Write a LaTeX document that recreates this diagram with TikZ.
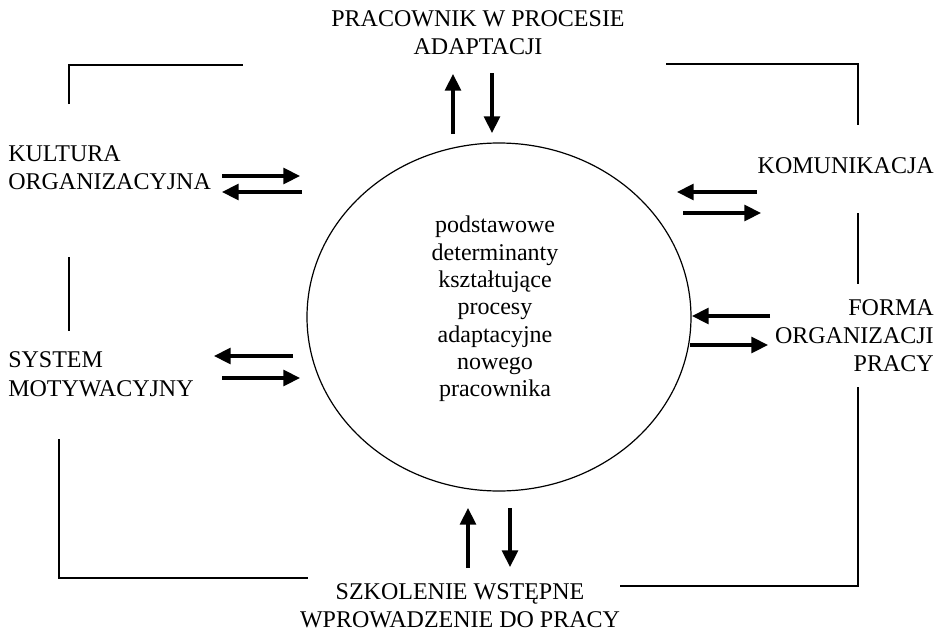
\documentclass[tikz,border=0pt]{standalone}
\usepackage{fontspec}
\setmainfont{Liberation Serif}
\usetikzlibrary{arrows.meta}

\tikzset{
  lbl/.style={inner sep=0pt,font=\fontsize{18}{21}\selectfont},
  arr/.style={line width=2.3pt,-{Triangle[length=12.5pt,width=12pt]}},
  frame/.style={line width=0.9pt},
}

\begin{document}
\begin{tikzpicture}[x=0.75pt,y=-0.75pt]
\useasboundingbox (0,0) rectangle (940,632);
% central ellipse
\draw[line width=0.9pt] (499,317) ellipse [x radius=192,y radius=174];
\node[lbl,align=center,anchor=north,font=\fontsize{18}{20.5}\selectfont] (core) at (495,216)
  {podstawowe\\determinanty\\kształtujące\\procesy\\adaptacyjne\\nowego\\pracownika};

% surrounding labels
\node[lbl,align=center,anchor=north] (worker) at (478,10) {PRACOWNIK W PROCESIE\\ADAPTACJI};
\node[lbl,align=left,anchor=north west] (culture) at (8,145) {KULTURA\\ORGANIZACYJNA};
\node[lbl,align=left,anchor=north west,font=\fontsize{18}{22}\selectfont] (motiv) at (8,351) {SYSTEM\\MOTYWACYJNY};
\node[lbl,anchor=north east] (comm) at (934,157) {KOMUNIKACJA};
\node[lbl,align=right,anchor=north east] (form) at (934,299) {FORMA\\ORGANIZACJI\\PRACY};
\node[lbl,align=center,anchor=north] (train) at (460,583) {SZKOLENIE WSTĘPNE\\WPROWADZENIE DO PRACY};

% frame lines
\draw[frame] (69,104) -- (69,65) -- (243,65);
\draw[frame] (69,257) -- (69,331);
\draw[frame] (59,439) -- (59,578) -- (308,578);
\draw[frame] (666,64) -- (858,64) -- (858,125);
\draw[frame] (858,213) -- (858,284);
\draw[frame] (858,387) -- (858,586) -- (620,586);

% paired arrows
\foreach \n/\xa/\ya/\xb/\yb in {wu/453/134/453/74, wd/492/73/492/133,
    cr/222/176/300/176, cl/302/192/222/192,
    kl/757/192/677/192, kr/683/213/761/213,
    fl/770/316/692/316, fr/690/345/768/345,
    ml/293/356/214/356, mr/222/378/300/378,
    tu/468/568/468/508, td/510/508/510/567}{
  \coordinate (\n-s) at (\xa,\ya);
  \coordinate (\n-e) at (\xb,\yb);
  \draw[arr] (\n-s) -- (\n-e);
}
\end{tikzpicture}
\end{document}
